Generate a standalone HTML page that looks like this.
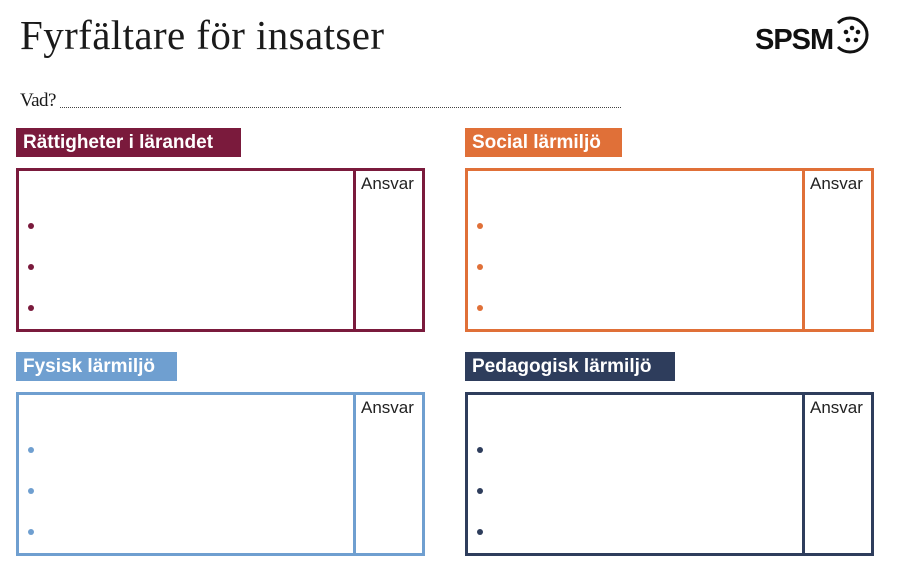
<!DOCTYPE html>
<html><head><meta charset="utf-8"><style>
body{margin:0;width:900px;height:573px;background:#fff;position:relative;overflow:hidden;font-family:"Liberation Sans",sans-serif}
.t{position:absolute;left:20px;top:11px;font-family:"Liberation Serif",serif;font-size:41px;color:#1a1a1a;letter-spacing:0.4px}
.vad{position:absolute;left:20px;top:90px;font-family:"Liberation Serif",serif;font-size:19px;color:#1a1a1a;letter-spacing:-0.5px}
.dots{position:absolute;left:60px;top:107px;width:561px;border-top:1.5px dotted #444}
.lab{position:absolute;height:29px;line-height:30px;color:#fff;font-weight:bold;font-size:19px;padding:0 7px;box-sizing:border-box}
.box{position:absolute;width:409px;height:164px;border:3px solid;box-sizing:border-box}
.box .div{position:absolute;left:334px;top:0;bottom:0;border-left:3px solid}
.box .ans{position:absolute;left:342px;top:3px;font-size:17px;color:#222}
.box i{position:absolute;left:9px;width:6px;height:6px;border-radius:50%}
</style></head><body>
<div class="t">Fyrfältare för insatser</div>
<div style="position:absolute;left:755px;top:24px;font-weight:bold;font-size:29px;color:#111;letter-spacing:-1px">SPSM</div>
<svg style="position:absolute;left:832px;top:14px" width="42" height="42" viewBox="0 0 42 42">
<path d="M6 9 A17 17 0 1 1 6 33" fill="none" stroke="#111" stroke-width="3"/>
<g fill="#111"><circle cx="20" cy="14" r="2.3"/><circle cx="26" cy="18" r="2.3"/><circle cx="24" cy="26" r="2.3"/><circle cx="16" cy="26" r="2.3"/><circle cx="14" cy="18" r="2.3"/></g></svg>
<div class="vad">Vad?</div><div class="dots"></div>

<div class="lab" style="left:16px;top:128px;width:225px;background:#7a1a3c">Rättigheter i lärandet</div>
<div class="box" style="left:16px;top:168px;border-color:#7a1a3c"><div class="div" style="border-color:#7a1a3c"></div><div class="ans">Ansvar</div>
<i style="top:52px;background:#7a1a3c"></i><i style="top:93px;background:#7a1a3c"></i><i style="top:134px;background:#7a1a3c"></i></div>

<div class="lab" style="left:465px;top:128px;width:157px;background:#e07038">Social lärmiljö</div>
<div class="box" style="left:465px;top:168px;border-color:#e07038"><div class="div" style="border-color:#e07038"></div><div class="ans">Ansvar</div>
<i style="top:52px;background:#e07038"></i><i style="top:93px;background:#e07038"></i><i style="top:134px;background:#e07038"></i></div>

<div class="lab" style="left:16px;top:352px;width:161px;background:#6f9fd0">Fysisk lärmiljö</div>
<div class="box" style="left:16px;top:392px;border-color:#6f9fd0"><div class="div" style="border-color:#6f9fd0"></div><div class="ans">Ansvar</div>
<i style="top:52px;background:#6f9fd0"></i><i style="top:93px;background:#6f9fd0"></i><i style="top:134px;background:#6f9fd0"></i></div>

<div class="lab" style="left:465px;top:352px;width:210px;background:#2e3d5c">Pedagogisk lärmiljö</div>
<div class="box" style="left:465px;top:392px;border-color:#2e3d5c"><div class="div" style="border-color:#2e3d5c"></div><div class="ans">Ansvar</div>
<i style="top:52px;background:#2e3d5c"></i><i style="top:93px;background:#2e3d5c"></i><i style="top:134px;background:#2e3d5c"></i></div>
</body></html>
